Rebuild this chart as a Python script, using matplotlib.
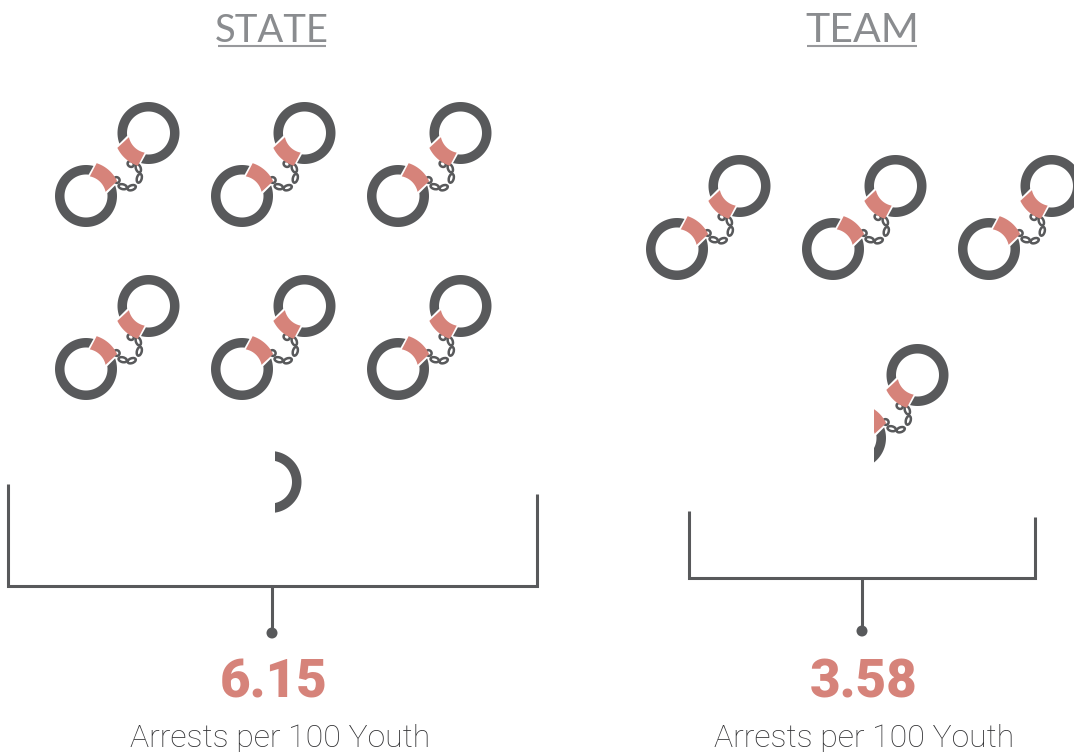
import numpy as np
import matplotlib
matplotlib.use("Agg")
import matplotlib.pyplot as plt
from matplotlib.patches import Circle, Ellipse, Polygon, Rectangle

groups = ["STATE", "TEAM"]
arrests = [6.15, 3.58]
unit_label = "Arrests per 100 Youth"

GREY = "#58595b"
PINK = "#d6837a"
TITLE = "#8a8c8f"
TEXT = "#333335"
FONT = ["Roboto", "DejaVu Sans"]
HEAD = ["Lato", "DejaVu Sans"]

# pixel layout for each panel
centers = [272, 862]
title_y = [42, 42]
title_size = [27.5, 29.5]
title_half = [54, 55]
rows_x = [[86, 242, 398], [677, 833, 989]]
rows_y = [[196, 369, 545], [249, 438]]
partial_x = [[208], [855]]
clip_left = [275, 874]
bracket_left = [(8, 484), (689, 511)]
bracket_right = [(537, 494), (1035, 517)]
bracket_y = [586, 578]
dot_y = [633, 631]
value_y = [697, 697]
label_y = [747, 747]

# chain links, relative to the lower ring: dx, dy, width, height, angle
links = [(30.7, -16, 6, 5.5, 40), (36.7, -9.3, 8.5, 4.8, 15), (45.7, -8.3, 8.5, 4.8, -20),
         (53.3, -17.7, 9, 4.8, -75), (52.3, -27.7, 8.5, 4.8, -110), (44.7, -32, 6.5, 5.5, 35)]


def arc(cx, cy, r, deg):
    a = np.radians(deg)
    return np.column_stack([cx + r * np.cos(a), cy - r * np.sin(a)])


def cuff(ax, cx, cy, start, clip):
    t = np.linspace(0, 1, 20)
    pts = np.vstack([arc(cx, cy, 20, 12 + 67 * t + start),
                     arc(cx, cy, 34.5, 72 - 46.5 * t + start)])
    p = Polygon(pts, closed=True, fc=PINK, ec="none", zorder=3)
    ax.add_patch(p)
    p.set_clip_path(clip)


def ring(ax, cx, cy, start, clip):
    # ends are cut parallel to the cuff, not radially
    t = np.linspace(0, 1, 90)
    pts = np.vstack([arc(cx, cy, 31, 76 + 304 * t + start),
                     arc(cx, cy, 21.5, 367.5 - 284.5 * t + start)])
    p = Polygon(pts, closed=True, fc=GREY, ec="none", zorder=2)
    ax.add_patch(p)
    p.set_clip_path(clip)


def handcuff(ax, x, y, left):
    clip = Rectangle((left, 0), 1074 - left, 752, transform=ax.transData)
    ux, uy = x + 62.5, y - 63
    for rx, ry, start in [(x, y, 0), (ux, uy, 180)]:
        ring(ax, rx, ry, start, clip)
        cuff(ax, rx, ry, start, clip)
    for dx, dy, w, h, ang in links:
        e = Ellipse((x + dx, y + dy), w, h, angle=ang, fc="none", ec=GREY, lw=1.8, zorder=2)
        ax.add_patch(e)
        e.set_clip_path(clip)


fig = plt.figure(figsize=(10.74, 7.52), dpi=100)
ax = fig.add_axes([0, 0, 1, 1])
ax.set_xlim(0, 1074)
ax.set_ylim(752, 0)
ax.axis("off")

for i, name in enumerate(groups):
    whole = int(arrests[i])
    n = 0
    for ry in rows_y[i]:
        for rx in rows_x[i]:
            if n < whole:
                handcuff(ax, rx, ry, 0)
            n += 1
    handcuff(ax, partial_x[i][0], rows_y[i][-1], clip_left[i])

    cx = centers[i]
    ax.text(cx, title_y[i], name, ha="center", va="baseline", fontsize=title_size[i], color=TITLE,
            family=HEAD, fontweight="normal")
    ax.plot([cx - title_half[i], cx + title_half[i]], [45.7, 45.7], color="#98999c", lw=1.5,
            solid_capstyle="butt")

    lx, ly = bracket_left[i]
    rx, ry = bracket_right[i]
    by = bracket_y[i]
    ax.plot([lx, lx, rx, rx], [ly, by, by, ry], color=GREY, lw=2.2, solid_joinstyle="miter", solid_capstyle="butt")
    ax.plot([cx, cx], [by, dot_y[i]], color=GREY, lw=2.2, solid_capstyle="butt")
    ax.add_patch(Circle((cx, dot_y[i]), 5.5, fc=GREY, ec="none"))

    ax.text(cx + 1.5, value_y[i], f"{arrests[i]:.2f}", ha="center", va="baseline", fontsize=38,
            color=PINK, family=FONT, fontweight="black")
    ax.text(cx + 8 if i == 0 else cx + 2, label_y[i], unit_label, ha="center", va="baseline", fontsize=23,
            color=TEXT, family=FONT, fontweight="light")

fig.savefig("out.png", dpi=100)
